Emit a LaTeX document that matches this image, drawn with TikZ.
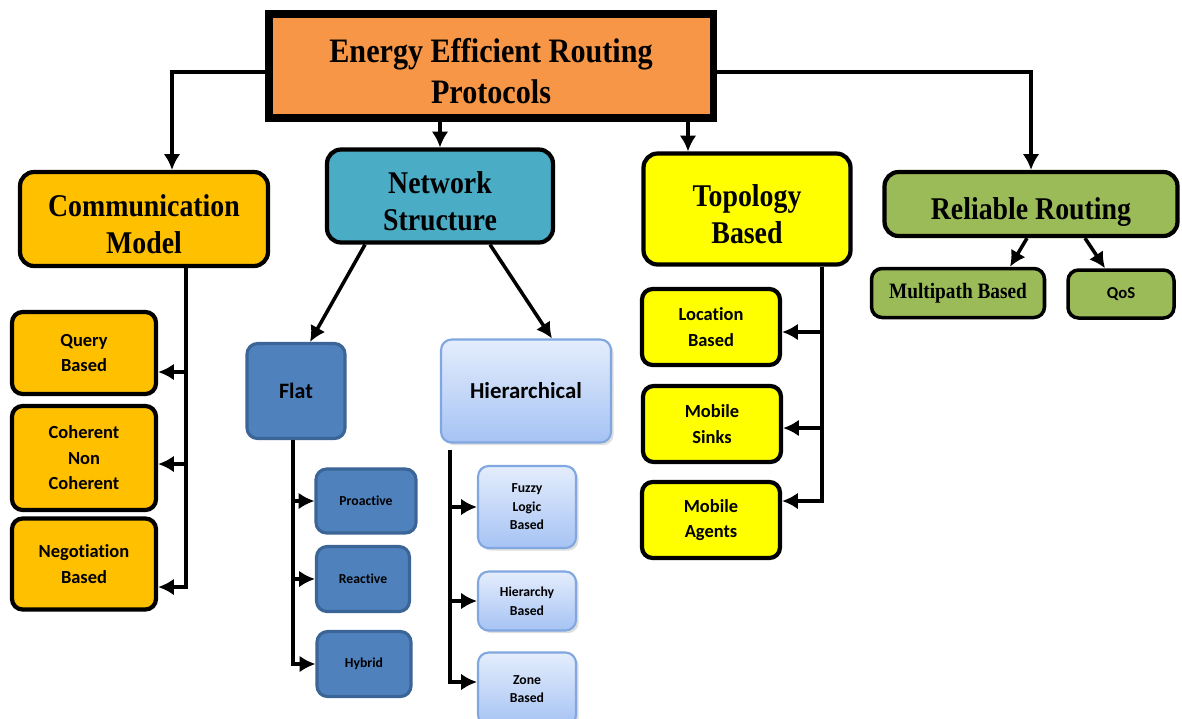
\documentclass[tikz,border=0pt]{standalone}
\usepackage{fontspec}
\setmainfont{Liberation Serif}[FakeStretch=0.88]
\newfontfamily\calibri{Carlito}[Ligatures=NoCommon]
\usetikzlibrary{arrows.meta,calc,shadows}
\definecolor{rootorange}{HTML}{F79646}
\definecolor{commgold}{HTML}{FFC000}
\definecolor{netteal}{HTML}{4BACC6}
\definecolor{topoyellow}{HTML}{FFFF00}
\definecolor{relgreen}{HTML}{9BBB59}
\definecolor{flatblue}{HTML}{4F81BD}
\definecolor{flatedge}{HTML}{3B6596}
\definecolor{hiertop}{HTML}{E4EDFC}
\definecolor{hierbot}{HTML}{A6C3F4}
\definecolor{hieredge}{HTML}{80A7E0}
\newcommand{\lines}[1]{\raisebox{0pt}[\dimexpr\height+10pt\relax]{\begin{tabular}{@{}c@{}}#1\end{tabular}}}
\begin{document}
\begin{tikzpicture}[x=0.02cm,y=-0.02cm,
    box/.style={draw=black,line width=2.4pt,rounded corners=8pt,align=center,inner sep=0pt},
    head/.style={box,font=\fontsize{18}{20.5}\selectfont\bfseries},
    leaf/.style={box,rounded corners=6pt,font=\calibri\bfseries\fontsize{10.5}{14.5}\selectfont},
    flatbox/.style={box,draw=flatedge,fill=flatblue,line width=1.8pt,rounded corners=6pt},
    hierbox/.style={box,draw=hieredge,line width=1.2pt,rounded corners=6pt,
      top color=hiertop,bottom color=hierbot,
      drop shadow={opacity=0.25,shadow xshift=1.5pt,shadow yshift=-1.5pt}},
    small/.style={font=\calibri\bfseries\fontsize{7.8}{10.5}\selectfont},
    arr/.style={line width=2pt,-{Latex[length=9pt,width=9.5pt]}},
    bus/.style={line width=2pt}]
  \useasboundingbox (0,0) rectangle (1182,718);
  % top level
  \node[draw=black,line width=4.5pt,fill=rootorange,align=center,inner sep=0pt,
    minimum width=8.9cm,minimum height=2.08cm,
    drop shadow={fill=rootorange!45,opacity=0.6,shadow xshift=2pt,shadow yshift=-2pt},
    font=\fontsize{19.5}{23}\selectfont\bfseries] (root) at (491,66)
    {\lines{Energy Efficient Routing\\Protocols}};
  \node[head,fill=commgold,minimum width=4.96cm,minimum height=1.88cm] (comm) at (144,219)
    {\lines{Communication\\Model}};
  \node[head,fill=netteal,minimum width=4.52cm,minimum height=1.86cm] (net) at (440,196)
    {\lines{Network\\Structure}};
  \node[head,fill=topoyellow,minimum width=4.14cm,minimum height=2.22cm] (topo) at (747,209)
    {\lines{Topology\\Based}};
  \node[head,fill=relgreen,minimum width=5.86cm,minimum height=1.28cm] (rel) at (1031,204)
    {\lines{Reliable Routing}};
  % communication model
  \node[leaf,fill=commgold,minimum width=2.88cm,minimum height=1.64cm] (query) at (84,353)
    {Query\\Based};
  \node[leaf,fill=commgold,minimum width=2.88cm,minimum height=2.08cm] (coher) at (84,458)
    {Coherent\\Non\\Coherent};
  \node[leaf,fill=commgold,minimum width=2.88cm,minimum height=1.82cm] (nego) at (84,564)
    {Negotiation\\Based};
  % network structure
  \node[flatbox,minimum width=1.96cm,minimum height=1.9cm,
    font=\calibri\bfseries\fontsize{12.5}{15}\selectfont] (flat) at (296,391) {Flat};
  \node[hierbox,minimum width=3.4cm,minimum height=2.06cm,
    font=\calibri\bfseries\fontsize{13}{15}\selectfont] (hier) at (526,391) {Hierarchical};
  \node[flatbox,small,minimum width=2.0cm,minimum height=1.28cm] (proact) at (366,501) {Proactive};
  \node[flatbox,small,minimum width=1.86cm,minimum height=1.3cm] (react) at (363,579) {Reactive};
  \node[flatbox,small,minimum width=1.88cm,minimum height=1.3cm] (hybrid) at (364,664) {Hybrid};
  \node[hierbox,small,minimum width=1.96cm,minimum height=1.64cm] (fuzzy) at (527,507)
    {Fuzzy\\Logic\\Based};
  \node[hierbox,small,minimum width=1.96cm,minimum height=1.18cm] (hierb) at (527,601)
    {Hierarchy\\Based};
  \node[hierbox,small,minimum width=1.96cm,minimum height=1.46cm] (zone) at (527,689)
    {Zone\\Based};
  % topology based
  \node[leaf,fill=topoyellow,minimum width=2.76cm,minimum height=1.52cm] (loc) at (711,327)
    {Location\\Based};
  \node[leaf,fill=topoyellow,minimum width=2.76cm,minimum height=1.52cm] (sinks) at (712,424)
    {Mobile\\Sinks};
  \node[leaf,fill=topoyellow,minimum width=2.76cm,minimum height=1.52cm] (agents) at (711,520)
    {Mobile\\Agents};
  % reliable routing
  \node[box,fill=relgreen,line width=2pt,rounded corners=6pt,minimum width=3.46cm,minimum height=0.98cm,
    font=\fontsize{12.5}{14}\selectfont\bfseries] (multi) at (958,293) {Multipath Based};
  \node[box,fill=relgreen,line width=2pt,rounded corners=6pt,minimum width=2.12cm,minimum height=0.96cm,
    font=\calibri\bfseries\fontsize{9.5}{12}\selectfont] (qos) at (1121,294) {QoS};

  % from the root
  \draw[arr] ($(root.west)+(0,6)$) -| ($(comm.north)+(28,0)$);
  \draw[arr] ($(root.east)+(0,6)$) -| (rel.north);
  \draw[arr] (root.south -| net.north) -- (net.north);
  \coordinate (tin) at ($(topo.north)+(-59,0)$);
  \draw[arr] (root.south -| tin) -- (tin);

  % communication model
  \coordinate (cbus) at ($(comm.south)+(42,0)$);
  \draw[arr] (cbus) |- ($(nego.east)+(0,23)$);
  \foreach \b/\dy in {query/19,coher/6}
    \draw[arr] (cbus |- {$(\b.east)+(0,\dy)$}) -- ($(\b.east)+(0,\dy)$);

  % network structure
  \draw[arr] ($(net.south)+(-75,0)$) -- ($(flat.north)+(14,0)$);
  \draw[arr] ($(net.south)+(50,0)$) -- ($(hier.north)+(26,0)$);
  \coordinate (fbus) at ($(flat.south)+(-3,0)$);
  \draw[arr] (fbus) |- (hybrid.west);
  \foreach \b in {proact,react}
    \draw[arr] (fbus |- \b.west) -- (\b.west);
  \coordinate (hbus) at ($(hier.south)+(-76,6)$);
  \draw[arr] (hbus) |- ($(zone.west)+(0,-7)$);
  \foreach \b in {fuzzy,hierb}
    \draw[arr] (hbus |- \b.west) -- (\b.west);

  % topology based
  \coordinate (tbus) at ($(topo.south)+(75,0)$);
  \draw[arr] (tbus) |- ($(agents.east)+(0,-19)$);
  \foreach \b/\dy in {loc/5,sinks/4}
    \draw[arr] (tbus |- {$(\b.east)+(0,\dy)$}) -- ($(\b.east)+(0,\dy)$);

  % reliable routing
  \draw[arr] ($(rel.south)+(-4,0)$) -- ($(multi.north)+(52,0)$);
  \draw[arr] ($(rel.south)+(54,0)$) -- ($(qos.north)+(-16,0)$);
\end{tikzpicture}
\end{document}
